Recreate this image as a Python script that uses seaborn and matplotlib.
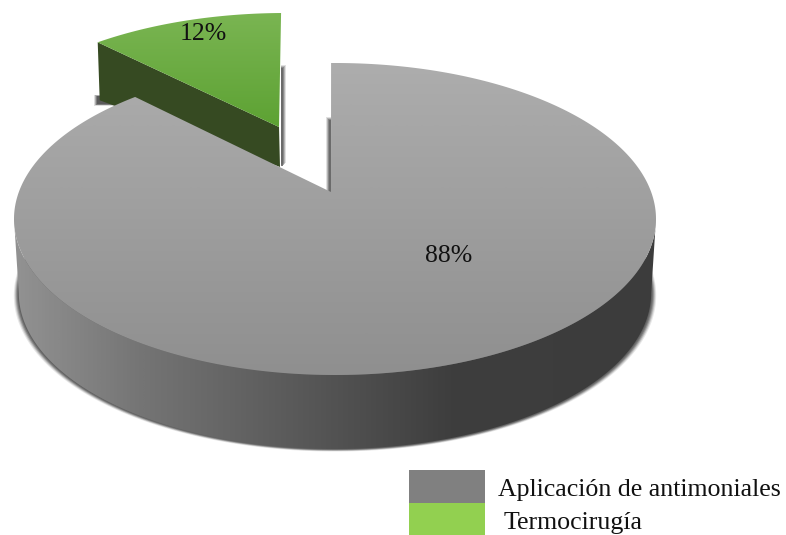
import numpy as np
import seaborn as sns; sns.set_theme(style="white")
import matplotlib.pyplot as plt
from matplotlib.colors import LinearSegmentedColormap
from matplotlib.patches import Polygon, Rectangle

categories = ["Aplicación de antimoniales", "Termocirugía"]
shares = [88, 12]
value_labels = ["88%", "12%"]

plt.rcParams["font.family"] = ["Liberation Serif", "DejaVu Serif"]
palette = sns.color_palette(["#808080", "#92d050"])

# pie geometry in pixels, the picture is a tilted disc so ellipse and apex differ
cx, cy, rx, ry = 335, 219, 321, 156
apex = (331, 192)
depth = 74
start = -0.7
gray_stretch = 1.017
green_stretch = 0.81
green_shift = (-50, -50)
green_apex = (279, 127)
cut_depth = 38
side_taper = 0.985


def rim(phi, dx=0, dy=0, scale=1.0):
    phi = np.radians(phi)
    return np.column_stack([cx + dx + rx * scale * np.sin(phi), cy + dy - ry * np.cos(phi)])


def gradient(ax, poly, values, colors, horizontal, extent):
    cmap = LinearSegmentedColormap.from_list("shade", list(zip(values, colors)))
    ramp = np.linspace(0, 1, 400)
    ramp = ramp[None, :] if horizontal else ramp[:, None]
    im = ax.imshow(ramp, extent=extent, cmap=cmap, vmin=0, vmax=1, aspect="auto", zorder=poly.get_zorder(), interpolation="bilinear")
    ax.add_patch(poly)
    poly.set_visible(False)
    im.set_clip_path(poly.get_path(), poly.get_transform())


fig = plt.figure(figsize=(7.86, 5.35), dpi=100)
ax = fig.add_axes([0, 0, 1, 1])

# blurred ground shadow below the disc, stacked soft layers
low = np.linspace(75, 285, 240)
for grow, alpha in zip([5, 4, 3, 2, 1], [0.15, 0.25, 0.4, 0.6, 0.85]):
    edge = np.column_stack([cx + (rx * side_taper + grow) * np.sin(np.radians(low)),
                            cy + depth + grow * 0.5 - ry * np.cos(np.radians(low))])
    ax.add_patch(Polygon(edge, closed=True, fc="#5f5f5f", ec="none", alpha=alpha, zorder=1))

# green slice, pulled out of the pie
gray_span = shares[0] / 100 * 360 * gray_stretch
green_span = shares[1] / 100 * 360 * green_stretch
green_arc = rim(np.linspace(start - green_span, start, 60), *green_shift)
left_top = green_arc[0]

for grow, alpha in zip([3, 2, 1, 0], [0.2, 0.35, 0.55, 0.85]):
    ax.add_patch(Rectangle((left_top[0] - 1 - grow, left_top[1] + 54 - grow / 2), 40, 8 + grow, fc="#555555", ec="none", alpha=alpha, zorder=2))
    ax.add_patch(Rectangle((green_arc[-1][0], green_arc[-1][1] + 55 - grow), 2 + grow, 98, fc="#666666", ec="none", alpha=alpha, zorder=2))
    ax.add_patch(Rectangle((apex[0] - 2 - grow, 120 - grow), 2 + grow, apex[1] - 120 + grow, fc="#666666", ec="none", alpha=alpha, zorder=2))

cut = [left_top, green_apex, (green_apex[0] + 1, green_apex[1] + cut_depth + 2), (left_top[0] + 2, left_top[1] + cut_depth + 20)]
ax.add_patch(Polygon(cut, closed=True, fc="#364a22", ec="none", zorder=3))
green_top = Polygon(np.vstack([[green_apex], green_arc]), closed=True, ec="none", zorder=4)
gradient(ax, green_top, [0, 1], ["#7ab552", "#5da233"], False, (90, 290, 127, 13))

# gray rim
phis = np.linspace(90, 270, 240)
upper = rim(phis)
lower = rim(phis[::-1], dy=depth, scale=side_taper)
side = Polygon(np.vstack([upper, lower]), closed=True, ec="none", zorder=5)
gradient(ax, side, [0, 0.2, 0.45, 0.68, 1], ["#929292", "#747474", "#585858", "#3e3e3e", "#3c3c3c"], True, (14, 656, 460, 200))

# gray top face
gray_arc = rim(np.linspace(start, start + gray_span, 400))
gray_top = Polygon(np.vstack([[apex], gray_arc]), closed=True, ec="none", zorder=6)
gradient(ax, gray_top, [0, 1], ["#adadad", "#8f8f8f"], False, (10, 660, 376, 62))

ax.text(449, 256, value_labels[0], ha="center", va="center", fontsize=18.5, color="#111111", zorder=8)
ax.text(203, 34, value_labels[1], ha="center", va="center", fontsize=18.5, color="#111111", zorder=8)

# legend
ax.add_patch(Rectangle((409, 470), 76, 33, fc=palette[0], ec="none"))
ax.add_patch(Rectangle((409, 503), 76, 32, fc=palette[1], ec="none"))
ax.text(498, 490, categories[0], ha="left", va="center", fontsize=18.6, color="#111111")
ax.text(504, 523, categories[1], ha="left", va="center", fontsize=18.6, color="#111111")

ax.set_xlim(0, 786)
ax.set_ylim(535, 0)
ax.axis("off")
fig.savefig("out.png", dpi=100, facecolor="white")
